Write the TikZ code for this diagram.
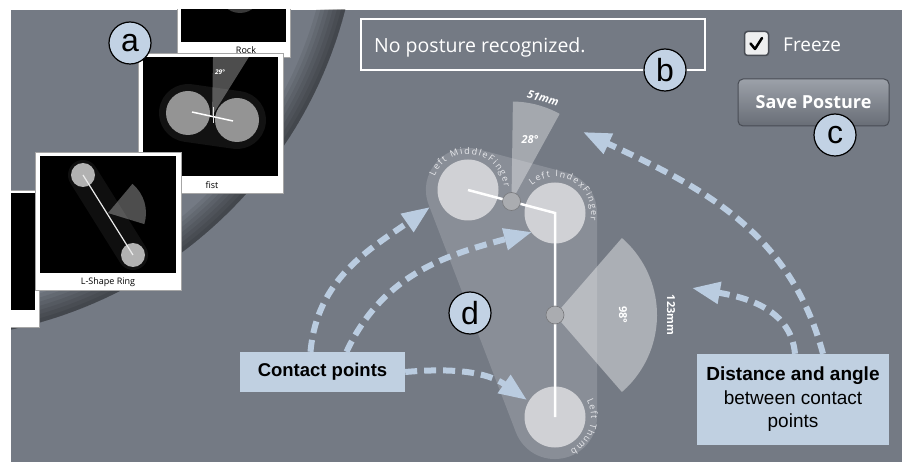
\documentclass[tikz,border=0pt]{standalone}
\usepackage{fontspec}
\setmainfont{Liberation Sans}
\newfontfamily\uifont{Open Sans}
\usetikzlibrary{arrows.meta}
\usetikzlibrary{calc,positioning}
\usetikzlibrary{decorations.text}

\definecolor{bgcol}{RGB}{116,122,132}
\definecolor{hullcol}{RGB}{137,142,151}
\definecolor{fingercol}{RGB}{208,209,213}
\definecolor{fingertext}{RGB}{232,233,236}
\definecolor{calloutcol}{RGB}{192,208,225}
\definecolor{arrowcol}{RGB}{186,204,224}
\definecolor{lettercol}{RGB}{194,210,228}
\definecolor{knobcol}{RGB}{170,172,176}
\definecolor{btntop}{RGB}{156,161,169}
\definecolor{btnbot}{RGB}{104,109,118}
\definecolor{btnedge}{RGB}{72,76,84}
\newcommand{\fingerfont}{\uifont\fontsize{9}{9}\selectfont}

\tikzset{
  letterdot/.style={circle, draw=black, line width=1.2pt, fill=lettercol, minimum size=42pt, inner sep=0pt, font=\fontsize{32}{32}\selectfont},
  callout/.style={fill=calloutcol, text=black, align=center, inner sep=0pt},
  hint/.style={draw=arrowcol, line width=6pt, dash pattern=on 12pt off 7pt, -{Triangle[length=28pt,width=21pt]}},
  finger/.style={circle, fill=fingercol, minimum size=61pt, inner sep=0pt},
  knob/.style={circle, fill=knobcol, draw=black!30!knobcol, line width=0.6pt, minimum size=18pt, inner sep=0pt},
  card/.style={fill=white, draw=black!35, line width=0.4pt},
  cardlabel/.style={font=\uifont\fontsize{9}{9}\selectfont, inner sep=0pt},
  wedgelabel/.style={text=white, inner sep=0pt, font=\uifont\bfseries\fontsize{11}{11}\selectfont},
  fingerlabel/.style={decorate, decoration={text along path, text align=fit to path, text color=fingertext}}
}

\begin{document}
\begin{tikzpicture}[x=1pt, y=1pt]

    \useasboundingbox (0,0) rectangle (902,-462);
    \fill[white] (0,0) rectangle (902,-462);

    \begin{scope}
    \clip (11,-10) rectangle (902,-462);
    \fill[bgcol] (11,-10) rectangle (902,-462);

    % rim of the posture wheel
    \foreach \w in {4,8,...,28}
        \draw[black, opacity=0.07, line width=\w*1pt] (-80,100) circle[radius=439-\w/2];

    % cards
    \filldraw[card] (0,-190) rectangle (39,-327);
    \fill[black] (0,-193) rectangle (35,-310);

    \filldraw[card] (177,5) rectangle (290,-57);
    \fill[black] (181,5) rectangle (286,-42);
    \fill[gray!45!black] (240,8) circle[radius=21];
    \node[cardlabel] (rocklbl) at (246,-50) {Rock};

    \filldraw[card] (138,-53) rectangle (283,-193);
    \fill[black] (143,-57) rectangle (278,-176);
    \begin{scope}
        \clip (143,-57) rectangle (278,-176);
        \draw[gray!14!black, line width=58pt, line cap=round] (188,-113) -- (237,-120);
        \fill[white, opacity=0.3] (212,-116) -- ++(58:70) arc[start angle=58, end angle=89, radius=70] -- cycle;
        \fill[white, opacity=0.55] (188,-113) circle[radius=22];
        \fill[white, opacity=0.55] (237,-120) circle[radius=22];
        \draw[white, line width=1.5pt] (192,-112) -- (233,-121);
        \draw[white!80!gray, line width=1pt] (213,-107) -- (213,-123);
        \node[wedgelabel, font=\uifont\bfseries\itshape\fontsize{6.5}{6.5}\selectfont] (fistangle) at (220,-72) {29°};
    \end{scope}
    \node[cardlabel] (fistlbl) at (212,-185) {fist};

    \filldraw[card] (35,-152) rectangle (181,-290);
    \fill[black] (40,-156) rectangle (176,-273);
    \begin{scope}
        \clip (40,-156) rectangle (176,-273);
        \draw[gray!12!black, line width=30pt, line cap=round] (83,-175) -- (133,-255);
        \fill[white, opacity=0.3] (108,-213) -- ++(-17:38) arc[start angle=-17, end angle=50, radius=38] -- cycle;
        \fill[gray!60] (83,-175) circle[radius=12];
        \fill[gray!60] (133,-255) circle[radius=12];
        \draw[white!85!gray, line width=1.2pt] (83,-175) -- (133,-255);
    \end{scope}
    \node[cardlabel] (llbl) at (108,-282) {L-Shape Ring};

    % posture view
    \coordinate (cm) at (468,-190);
    \coordinate (ci) at (555,-213);
    \coordinate (ct) at (555,-417);
    \coordinate (k1) at ($(cm)!0.5!(ci)$);
    \coordinate (k2) at ($(ci)!0.5!(ct)$);

    \filldraw[hullcol, line width=84pt, line join=round] (cm) -- (ci) -- (ct) -- cycle;

    \fill[white, opacity=0.35] (k1) -- ++(61.2:100) arc[start angle=61.2, end angle=89.2, radius=100] -- cycle;
    \fill[white, opacity=0.4] (k2) -- ++(-49:102) arc[start angle=-49, end angle=49, radius=102] -- cycle;

    \node[finger] (middle) at (cm) {};
    \node[finger] (index) at (ci) {};
    \node[finger] (thumb) at (ct) {};

    \draw[white, line width=2.5pt] (middle.center) -- (index.center) -- (thumb.center);
    \node[knob] (knobA) at (k1) {};
    \node[knob] (knobB) at (k2) {};

    \node[wedgelabel, font=\uifont\bfseries\itshape\fontsize{11}{11}\selectfont] (ang1) at ($(k1)+(73.5:65)$) {28°};
    \node[wedgelabel, font=\uifont\bfseries\itshape\fontsize{11}{11}\selectfont, rotate=-16] (len1) at ($(k1)+(73:108)$) {51mm};
    \node[wedgelabel, rotate=-90] (ang2) at ($(k2)+(68,0)$) {98°};
    \node[wedgelabel, rotate=-90] (len2) at ($(k2)+(116,0)$) {123mm};

    \path[fingerlabel, decoration={text={|\fingerfont|Left MiddleFinger}}]
        ($(cm)+(158:36)$) arc[start angle=158, end angle=4, radius=36];
    \path[fingerlabel, decoration={text={|\fingerfont|Left IndexFinger}}]
        ($(ci)+(130:36)$) arc[start angle=130, end angle=-12, radius=36];
    \path[fingerlabel, decoration={text={|\fingerfont|Left Thumb}}]
        ($(ct)+(28:36)$) arc[start angle=28, end angle=-65, radius=36];

    % top bar
    \node[draw=white, line width=2.5pt, minimum width=344pt, minimum height=51pt, inner sep=0pt] (status) at (533,-44.5) {};
    \node[anchor=base west, text=white, inner sep=0pt, font=\uifont\fontsize{19.5}{19.5}\selectfont] (statustext) at (374,-53) {No posture recognized.};

    \node[rounded corners=3pt, fill=white!88!bgcol, draw=btnedge, line width=1.5pt, minimum size=24pt, inner sep=0pt] (freezebox) at (756.5,-43.5) {};
    \draw[black, line width=2.5pt, line cap=round, line join=round] ($(freezebox.center)+(-6,0)$) -- ++(4.5,-5.5) -- ++(7,11);
    \node[anchor=base west, text=white, inner sep=0pt, font=\uifont\fontsize{19}{19}\selectfont] (freezetext) at (783,-52) {Freeze};

    \node[rounded corners=5pt, draw=btnedge, line width=1pt, top color=btntop, bottom color=btnbot, minimum width=151pt, minimum height=47pt, text=white, font=\uifont\bfseries\fontsize{18}{18}\selectfont] (save) at (813.5,-102.5) {Save Posture};

    % callouts
    \node[callout, minimum width=165pt, minimum height=40pt, font=\bfseries\fontsize{18.5}{22}\selectfont] (contact) at (322.5,-372) {Contact points};
    \node[callout, minimum width=192pt, minimum height=91pt, font=\fontsize{19}{23.5}\selectfont] (distance) at (793,-399.5) {\textbf{Distance and angle}\\between contact\\points};

    \coordinate (tipM) at (430,-207);
    \coordinate (tipI) at (532,-232);
    \coordinate (tipT) at (527,-400);
    \coordinate (tipD) at (692,-288);
    \coordinate (tipA) at (583,-132);

    \draw[hint] ([xshift=-12pt]contact.north) to[out=85, in=215] (tipM);
    \draw[hint] ([xshift=24pt]contact.north) to[out=65, in=195] (tipI);
    \draw[hint] (contact.east) to[out=5, in=145] (tipT);
    \draw[hint] ([xshift=2pt]distance.north) to[out=95, in=-10] (tipD);
    \draw[hint] ([xshift=30pt]distance.north) to[out=105, in=-25] (tipA);

    % markers
    \node[letterdot] (la) at (130,-43) {a};
    \node[letterdot] (lb) at (665,-70) {b};
    \node[letterdot] (lc) at (835,-135) {c};
    \node[letterdot] (ld) at (470,-313) {d};
    \end{scope}

\end{tikzpicture}
\end{document}
